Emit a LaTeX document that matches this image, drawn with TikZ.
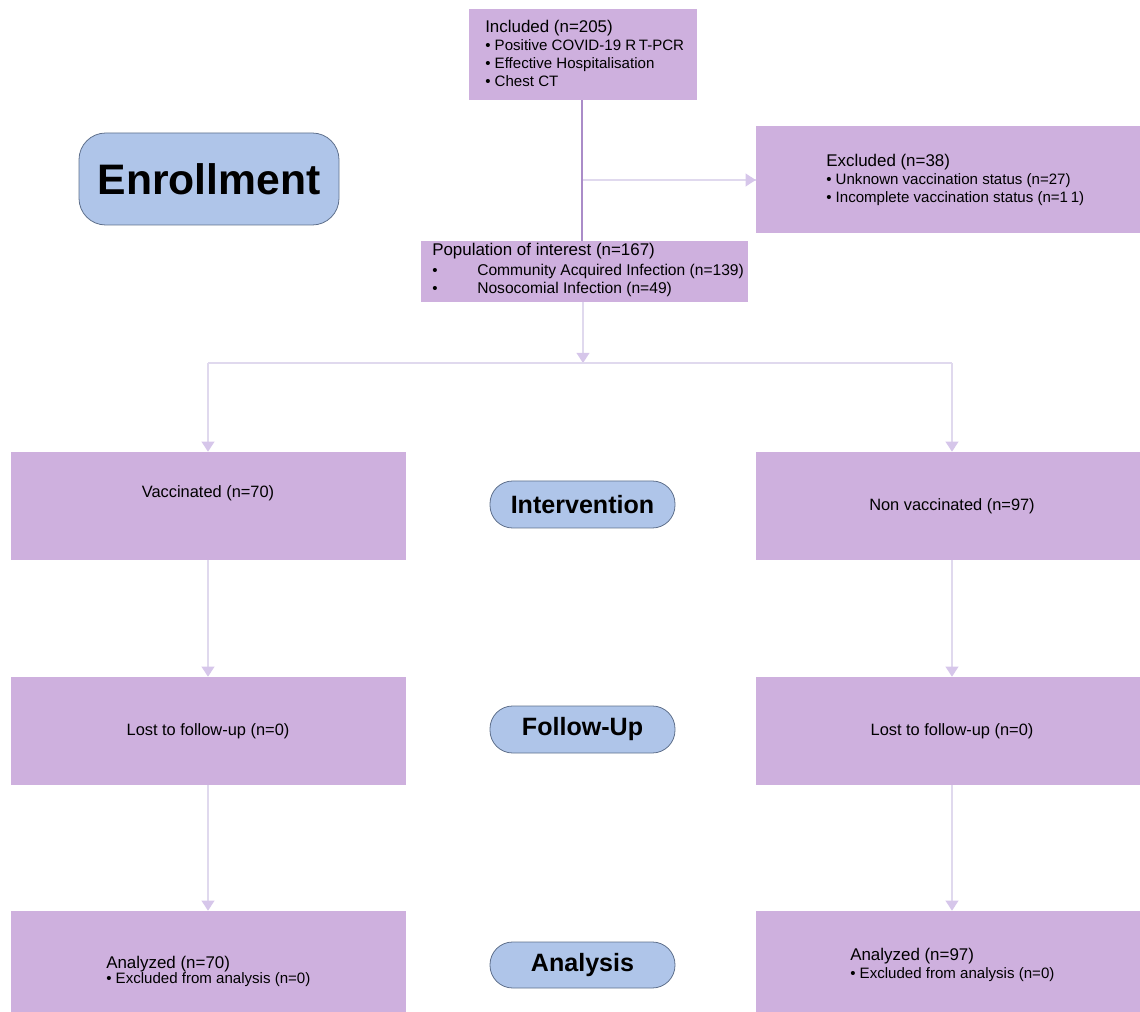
\documentclass[tikz,border=0pt]{standalone}
\usepackage{fontspec}
\setmainfont{Liberation Sans}
\usetikzlibrary{arrows.meta,fit}
\definecolor{boxpurple}{RGB}{206,176,222}
\definecolor{pillblue}{RGB}{175,197,233}
\definecolor{pillborder}{RGB}{95,112,140}
\definecolor{linelight}{RGB}{224,217,238}
\definecolor{linedark}{RGB}{170,140,200}
\definecolor{headcol}{RGB}{214,198,234}
\begin{document}
\begin{tikzpicture}[x=0.75pt,y=-0.75pt,
  pbox/.style={fill=boxpurple, draw=none, inner sep=0pt},
  pill/.style={fill=pillblue, draw=pillborder, line width=0.6pt, inner sep=0pt, rounded corners=#1},
  pilltext/.style={font=\fontsize{18.8}{22}\selectfont\bfseries},
  hd/.style={anchor=base west, inner sep=0pt, font=\fontsize{12.7}{15}\selectfont},
  it/.style={anchor=base west, inner sep=0pt, font=\fontsize{11.3}{13}\selectfont},
  ctr/.style={anchor=base, inner sep=0pt, font=\fontsize{12.3}{15}\selectfont},
  conn/.style={draw=linelight, line width=1.1pt},
  arr/.style={conn, -{Triangle[width=9.5pt,length=7.5pt,fill=headcol,color=headcol]}},
  darkline/.style={draw=linedark, line width=1.5pt}
]
\useasboundingbox (0,0) rectangle (1140,1012);

% boxes
\node[pbox, fit={(469,9) (697,100)}] (inc) {};
\node[pbox, fit={(756,126) (1140,233)}] (exc) {};
\node[pbox, fit={(421,241) (748,302)}] (pop) {};
\node[pbox, fit={(11,452) (406,560)}] (vac) {};
\node[pbox, fit={(756,452) (1140,560)}] (nvac) {};
\node[pbox, fit={(11,677) (406,785)}] (lostL) {};
\node[pbox, fit={(756,677) (1140,785)}] (lostR) {};
\node[pbox, fit={(11,911) (406,1012)}] (anaL) {};
\node[pbox, fit={(756,911) (1140,1012)}] (anaR) {};

% pills
\node[pill=20pt, fit={(79,133) (339,225)}] (enr) {};
\node[font=\fontsize{32}{36}\selectfont\bfseries, inner sep=0pt] (enrT) at (enr.center) {Enrollment};
\node[pill=17pt, fit={(490,481) (675,528)}] (intv) {};
\node[pilltext, inner sep=0pt] (intvT) at (intv.center) {Intervention};
\node[pill=17pt, fit={(490,706) (675,753)}] (fu) {};
\node[pilltext, inner sep=0pt] (fuT) at (fu.center) {Follow-Up};
\node[pill=17pt, fit={(490,942) (675,988)}] (an) {};
\node[pilltext, inner sep=0pt] (anT) at (an.center) {Analysis};

% texts
\node[hd] (t1) at (485,33) {Included (n=205)};
\node[it] (t2) at (485,51) {• Positive COVID-19 R\kern2pt T-PCR};
\node[it] (t3) at (485,69) {• Effective Hospitalisation};
\node[it] (t4) at (485,87) {• Chest CT};

\node[hd] (e1) at (826,167) {Excluded (n=38)};
\node[it] (e2) at (826,185) {• Unknown vaccination status (n=27)};
\node[it] (e3) at (826,203) {• Incomplete vaccination status (n=1\kern2pt 1)};

\node[hd] (p1) at (432,256) {Population of interest (n=167)};
\node[it] (p2) at (432,276) {•};
\node[it, font=\fontsize{11.7}{13}\selectfont] (p3) at (477,276) {Community Acquired Infection (n=139)};
\node[it] (p4) at (432,294) {•};
\node[it, font=\fontsize{11.7}{13}\selectfont] (p5) at (477,294) {Nosocomial Infection (n=49)};

\node[ctr] (v1) at (208,498) {Vaccinated (n=70)};
\node[ctr] (v2) at (952,511) {Non vaccinated (n=97)};
\node[ctr] (l1) at (208,735) {Lost to follow-up (n=0)};
\node[ctr] (l2) at (952,735) {Lost to follow-up (n=0)};

\node[hd] (a1) at (106,968) {Analyzed (n=70)};
\node[it] (a2) at (106,983) {• Excluded from analysis (n=0)};
\node[hd] (a3) at (850,960) {Analyzed (n=97)};
\node[it] (a4) at (850,978) {• Excluded from analysis (n=0)};

% connectors
\coordinate (j1) at (582,180);
\coordinate (split) at (583,363);
\coordinate (sl) at (208,363);
\coordinate (sr) at (952,363);
\draw[conn] (j1) -- (j1 -| exc.west);
\draw[arr] (j1) -- (j1 -| exc.west);
\draw[darkline] (inc.south -| j1) -- (pop.north -| j1);
\draw[arr] (pop.south -| split) -- (split);
\draw[conn] (sl) -- (sr);
\draw[arr] (sl) -- (sl |- vac.north);
\draw[arr] (sr) -- (sr |- nvac.north);
\draw[arr] (sl |- vac.south) -- (sl |- lostL.north);
\draw[arr] (sr |- nvac.south) -- (sr |- lostR.north);
\draw[arr] (sl |- lostL.south) -- (sl |- anaL.north);
\draw[arr] (sr |- lostR.south) -- (sr |- anaR.north);
\end{tikzpicture}
\end{document}
